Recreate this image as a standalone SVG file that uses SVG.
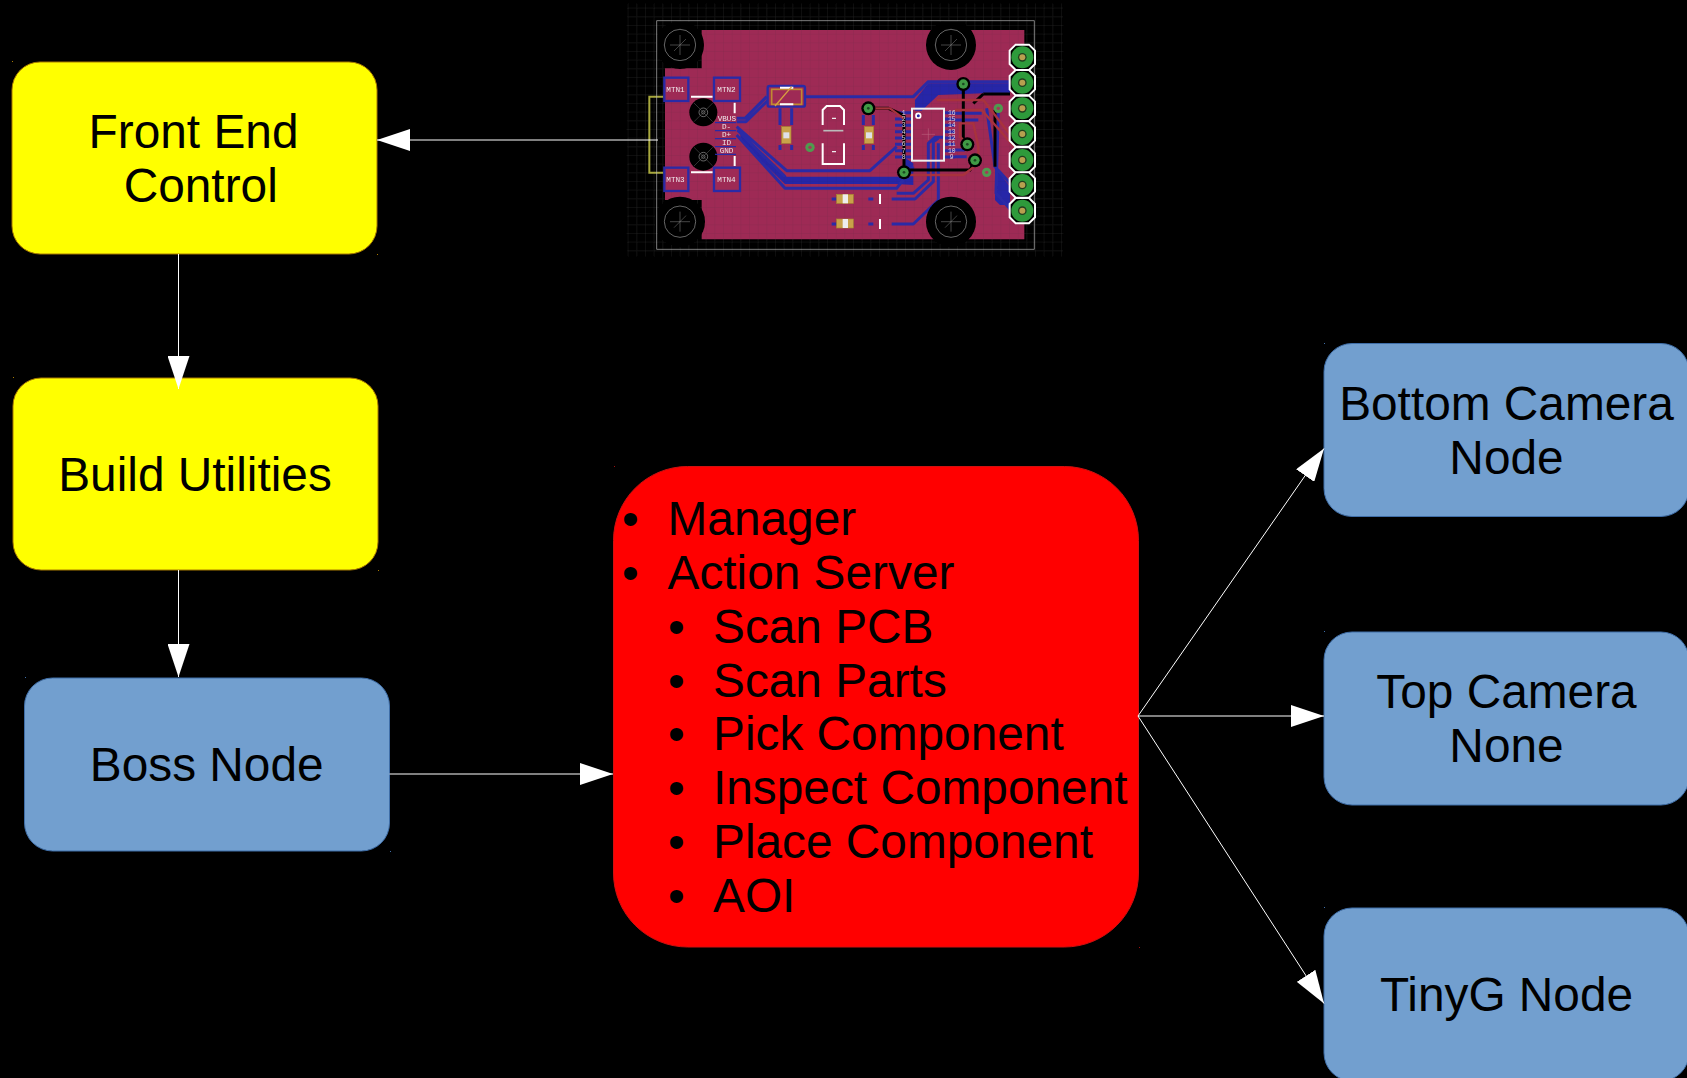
<svg xmlns="http://www.w3.org/2000/svg" xmlns:xlink="http://www.w3.org/1999/xlink" width="1687" height="1078" viewBox="0 0 1687 1078">
<style>
.t{font-family:"Liberation Sans",Arial,sans-serif;font-size:47.8px;fill:#000}
.y{fill:#ff0;stroke:#a87a00;stroke-width:1}
.b{fill:#729fcf;stroke:#3f6ea8;stroke-width:1}
.r{fill:#f00;stroke:#d01010;stroke-width:1}
.c{stroke:#fff;stroke-width:1;fill:none;marker-end:url(#arrow)}
.tr{fill:none;stroke:#2b2ba6;stroke-width:9;stroke-linejoin:round}
.rd{fill:none;stroke:#a8323c;stroke-width:7}
.bk{fill:none;stroke:#000;stroke-width:9}
.pad{fill:#9e2b55;stroke:#2b2ba6;stroke-width:7}
.m{font-family:"Liberation Mono",monospace;font-size:23px;fill:#efe6ea}
.n{font-family:"Liberation Mono",monospace;font-size:19px;fill:#e0d0d8}
.w{stroke:#fff;stroke-width:6;fill:none}
.dr{fill:none;stroke:#999;stroke-width:2}
.tan{fill:#c9a248;stroke:#a88430;stroke-width:2}
.dy{fill:#a87a00}.db{fill:#3f6ea8}.dr2{fill:#a01010}
</style>
<defs>
<marker id="arrow" viewBox="0 0 33 22" refX="33" refY="11" markerWidth="33" markerHeight="22" markerUnits="userSpaceOnUse" orient="auto"><path d="M0 0L33 11L0 22Z" fill="#fff"/></marker>
<pattern id="grid" width="26" height="26" patternUnits="userSpaceOnUse"><path d="M26 0V26M0 26H26" fill="none" stroke="#2a2a2a" stroke-width="2"/></pattern>
<filter id="soft" x="-2%" y="-2%" width="104%" height="104%"><feGaussianBlur stdDeviation="1.8"/></filter>
<g id="hole"><circle r="47" class="dr"/><path d="M-30 0H30M0 -30V30M-18 18L18 -18" stroke="#888" stroke-width="1.5"/></g>
<g id="usbh"><circle r="42" fill="#000"/><circle r="13" class="dr"/><circle r="5" class="dr"/><path d="M-28 -28L28 28M-28 28L28 -28" stroke="#666" stroke-width="1.5"/></g>
<g id="hdr"><path d="M-20 -38H20L38 -20V20L20 38H-20L-38 20V-20Z" fill="#000" stroke="#fff" stroke-width="6"/><circle r="33" fill="#2f9a3a"/><circle r="13" fill="#23401f"/><circle r="9" fill="#b8a050"/></g>
<g id="via"><circle r="21" fill="#000"/><circle r="14" fill="#3f9a45"/><circle r="4" fill="#1c4a24"/></g>
<g id="gv"><circle r="14" fill="#4f9a50"/><circle r="5" fill="#a33a58"/></g>
</defs>
<rect width="1687" height="1078" fill="#000"/>

<g id="pcb" transform="translate(620 0) scale(.33333)">
<g filter="url(#soft)">
<rect x="20" y="10" width="1310" height="760" fill="url(#grid)"/>
<path d="M245 90H1213V718H245V600H135V205H245Z" fill="#9e2b55"/>
<path d="M362 398L500 530H850V470L880 490V555L830 552H495L360 420ZM885 300L925 250H1170V285L1090 280L955 285L905 332H885ZM1125 500L1170 560V615H1140L1125 600Z" fill="#2626a8"/>
<rect x="135" y="90" width="1078" height="628" fill="url(#grid)" opacity=".2"/>
<path d="M130 290H88V518H130" fill="none" stroke="#a8a83c" stroke-width="6"/>
<path class="tr" d="M350 355L375 355L440 290M555 290H880L925 245H1175M350 365H378L445 300"/>
<path class="tr" d="M350 380L500 512H750L830 440M350 405L495 565H830L880 500M352 390L495 530M830 580H880L925 540V430L945 412H975M815 597H885L940 545V425L955 415M815 672H880L955 600V430M635 597H700M635 672H700M745 597H760M745 672H760M1135 325L1128 580L1175 632M1100 325L1125 500L1175 555M1005 340H1085M1005 360H1075M1005 470H1040M1005 450H1035"/>
<path class="tr" d="M825 338H875M825 357H875M825 376H875M825 395H875M825 414H875M825 433H875M825 452H875M825 471H875M975 338H1005M975 357H1005M975 376H1005M975 395H1005M975 414H1005M975 433H1005M975 452H1005M975 471H1005"/>
<path class="bk" d="M745 325H805L850 345M852 517V345M1030 252V432H1042M852 510H1050L1065 481M1090 282H1170M1090 282L1060 310M1125 330V500"/>
<path class="rd" d="M745 325H810L850 355M1005 330H1085L1200 460M950 300H1090L1190 430M1042 433L1020 410V370H1060L1075 440V490L1030 525H860"/>
<circle cx="180" cy="135" r="72" fill="#000"/><circle cx="993" cy="135" r="75" fill="#000"/><circle cx="180" cy="665" r="75" fill="#000"/><circle cx="993" cy="665" r="75" fill="#000"/>
<path d="M110 62H1243V748H110Z" fill="none" stroke="#bbb" stroke-width="2"/>
<use xlink:href="#hole" x="180" y="135"/><use xlink:href="#hole" x="993" y="135"/><use xlink:href="#hole" x="180" y="665"/><use xlink:href="#hole" x="993" y="665"/>
<use xlink:href="#usbh" x="250" y="337"/><use xlink:href="#usbh" x="250" y="470"/>
<path class="w" d="M213 290H278M213 517H278M344 308V340M344 468V498"/>
<rect class="pad" x="133" y="233" width="72" height="70"/><rect class="pad" x="282" y="233" width="78" height="70"/><rect class="pad" x="133" y="503" width="72" height="70"/><rect class="pad" x="282" y="503" width="78" height="70"/>
<text class="m" x="139" y="276">MTN1</text><text class="m" x="292" y="276">MTN2</text><text class="m" x="139" y="546">MTN3</text><text class="m" x="292" y="546">MTN4</text>
<path class="tr" style="stroke-width:4" d="M285 368H348M285 392H348M285 416H348M285 440H348M285 463H348"/>
<text class="m" x="293" y="364">VBUS</text><text class="m" x="306" y="387">D-</text><text class="m" x="306" y="411">D+</text><text class="m" x="306" y="435">ID</text><text class="m" x="299" y="459">GND</text>
<rect class="pad" x="443" y="258" width="112" height="62" rx="6"/>
<rect x="455" y="268" width="90" height="45" fill="none" stroke="#c08a30" stroke-width="5"/>
<path class="w" d="M480 263H520M480 313H520"/><path d="M465 318L515 260" stroke="#d8a040" stroke-width="4"/>
<path class="tr" d="M480 325V375M515 325V375M480 435V450M515 435V450"/>
<rect class="tan" x="485" y="380" width="28" height="50"/><rect x="490" y="397" width="18" height="18" fill="#dfe0e8"/>
<path class="tr" d="M730 345V375M760 345V375M730 435V450M760 435V450"/>
<rect class="tan" x="733" y="380" width="28" height="50"/><rect x="738" y="397" width="18" height="18" fill="#dfe0e8"/>
<path class="w" d="M608 375V330L620 318H660L672 330V375M608 430V492H672V430"/><path d="M610 392H670" stroke="#bbb" stroke-width="5"/>
<path d="M636 355H648M636 455H648" stroke="#eee" stroke-width="4"/>
<rect class="tan" x="650" y="583" width="50" height="27"/><rect x="668" y="583" width="16" height="27" fill="#eee"/>
<rect class="tan" x="650" y="657" width="50" height="27"/><rect x="668" y="657" width="16" height="27" fill="#eee"/>
<path class="w" d="M780 582V612M780 657V687"/>
<rect x="876" y="326" width="96" height="156" fill="none" stroke="#f0f0f0" stroke-width="6"/>
<circle cx="895" cy="347" r="7" fill="#2626a8" stroke="#fff" stroke-width="5"/>
<path d="M925 385V420M905 403H945" stroke="#c06a88" stroke-width="1.500"/>
<text class="n" x="845" y="344">1</text><text class="n" x="845" y="363">2</text><text class="n" x="845" y="382">3</text><text class="n" x="845" y="401">4</text><text class="n" x="845" y="420">5</text><text class="n" x="845" y="439">6</text><text class="n" x="845" y="458">7</text><text class="n" x="845" y="477">8</text>
<text class="n" x="984" y="344">16</text><text class="n" x="984" y="363">15</text><text class="n" x="984" y="382">14</text><text class="n" x="984" y="401">13</text><text class="n" x="984" y="420">12</text><text class="n" x="984" y="439">11</text><text class="n" x="984" y="458">10</text><text class="n" x="989" y="477">9</text>
<use xlink:href="#hdr" x="1207" y="172"/><use xlink:href="#hdr" x="1207" y="248"/><use xlink:href="#hdr" x="1207" y="325"/><use xlink:href="#hdr" x="1207" y="402"/><use xlink:href="#hdr" x="1207" y="480"/><use xlink:href="#hdr" x="1207" y="555"/><use xlink:href="#hdr" x="1207" y="632"/>
<use xlink:href="#via" x="1030" y="252"/><use xlink:href="#via" x="745" y="325"/><use xlink:href="#via" x="852" y="517"/><use xlink:href="#via" x="1042" y="433"/><use xlink:href="#via" x="1065" y="481"/>
<use xlink:href="#gv" x="570" y="442"/><use xlink:href="#gv" x="1135" y="325"/><use xlink:href="#gv" x="1100" y="517"/>
</g>
</g>

<g id="front-end-control"><rect class="y" x="12" y="62" width="365" height="192" rx="28"/><rect class="dy" x="12" y="61" width="1" height="1"/><rect class="dy" x="377" y="254" width="1" height="1"/><text class="t" x="88.600" y="148">Front End</text><text class="t" x="123.700" y="202">Control</text></g>
<g id="build-utilities"><rect class="y" x="13" y="378" width="365" height="192" rx="28"/><rect class="dy" x="13" y="377" width="1" height="1"/><rect class="dy" x="378" y="570" width="1" height="1"/><text class="t" x="58.200" y="490.500">Build Utilities</text></g>
<g id="boss-node"><rect class="b" x="24.500" y="678" width="365" height="173" rx="28"/><rect class="db" x="25" y="677" width="1" height="1"/><rect class="db" x="390" y="851" width="1" height="1"/><text class="t" x="89.800" y="781">Boss Node</text></g>
<g id="manager"><rect class="r" x="613.500" y="466.500" width="525" height="480.500" rx="74"/><rect class="dr2" x="614" y="466" width="1" height="1"/><rect class="dr2" x="1139" y="947" width="1" height="1"/>
<text class="t" x="622" y="535">•</text><text class="t" x="667.500" y="535">Manager</text>
<text class="t" x="622" y="589">•</text><text class="t" x="667.500" y="589">Action Server</text>
<text class="t" x="668" y="642.500">•</text><text class="t" x="713" y="642.500">Scan PCB</text>
<text class="t" x="668" y="696.500">•</text><text class="t" x="713" y="696.500">Scan Parts</text>
<text class="t" x="668" y="749.500">•</text><text class="t" x="713" y="749.500">Pick Component</text>
<text class="t" x="668" y="803.500">•</text><text class="t" x="713" y="803.500">Inspect Component</text>
<text class="t" x="668" y="857.500">•</text><text class="t" x="713" y="857.500">Place Component</text>
<text class="t" x="668" y="911.500">•</text><text class="t" x="713" y="911.500">AOI</text></g>
<g id="bottom-camera-node"><rect class="b" x="1324" y="343.500" width="365" height="173" rx="28"/><rect class="db" x="1324" y="343" width="1" height="1"/><text class="t" x="1506.500" y="420" text-anchor="middle">Bottom Camera</text><text class="t" x="1506.500" y="474" text-anchor="middle">Node</text></g>
<g id="top-camera-node"><rect class="b" x="1324" y="632" width="365" height="173" rx="28"/><rect class="db" x="1324" y="631" width="1" height="1"/><text class="t" x="1506.500" y="708" text-anchor="middle">Top Camera</text><text class="t" x="1506.500" y="762" text-anchor="middle">None</text></g>
<g id="tinyg-node"><rect class="b" x="1324" y="908" width="365" height="173" rx="28"/><rect class="db" x="1324" y="907" width="1" height="1"/><text class="t" x="1506.500" y="1011" text-anchor="middle">TinyG Node</text></g>

<g id="connectors">
<path class="c" d="M658 140H377"/>
<path class="c" d="M178.500 254V389"/>
<path class="c" d="M178.500 570V677"/>
<path class="c" d="M389.500 774H613"/>
<path class="c" d="M1138 716L1324 448.500"/>
<path class="c" d="M1138 716H1324"/>
<path class="c" d="M1138 716L1324 1003.500"/>
</g>
</svg>
